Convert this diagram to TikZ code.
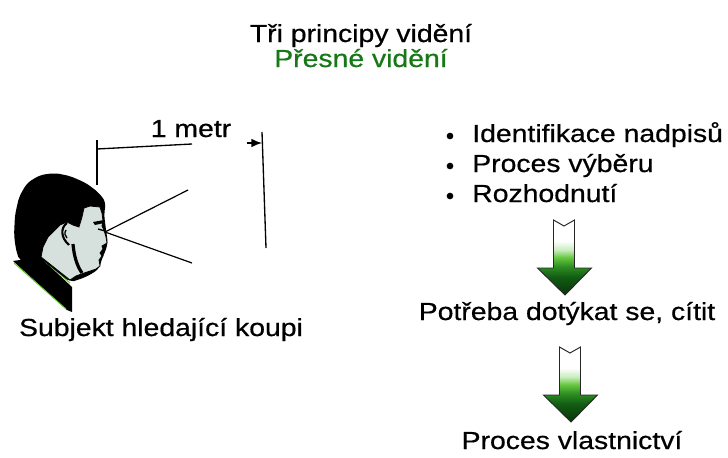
\documentclass[tikz,border=0pt]{standalone}
\usepackage{fontspec}
\setmainfont{Liberation Sans}
\newfontfamily\labelfont{Liberation Sans}[FakeBold=0.5]
\usepackage{graphicx}
\usetikzlibrary{arrows.meta}

\definecolor{titlegreen}{RGB}{24,120,24}
\definecolor{facefill}{RGB}{214,224,220}
\definecolor{collargreen}{RGB}{96,204,40}
\definecolor{arrowdark}{RGB}{8,52,8}
\definecolor{arrowdeep}{RGB}{18,92,20}
\definecolor{arrowmid}{RGB}{46,142,34}
\definecolor{arrowbright}{RGB}{102,200,64}
\definecolor{arrowpale}{RGB}{200,236,190}

% vertical fill of the flow arrows: white shaft top fading into a dark green head
\pgfdeclareverticalshading{flowfill}{100bp}{color(0bp)=(arrowdark); color(25bp)=(arrowdark);
  color(37bp)=(arrowdeep); color(44bp)=(arrowmid); color(50bp)=(arrowbright);
  color(55bp)=(arrowpale); color(61bp)=(white); color(100bp)=(white)}

\newcommand\widetext[1]{\scalebox{1.15}[1]{#1}}

\tikzset{
  lbl/.style={inner sep=0pt, font=\labelfont\fontsize{18.5}{22}\selectfont},
  dimline/.style={line width=1pt, black},
  sightline/.style={line width=0.9pt, black},
  dotmark/.style={circle, fill=black, inner sep=0pt, minimum size=5},
  flowarrow/.pic={
    \shadedraw[shading=flowfill, draw=black!85, line width=0.7pt]
      (-10.5,0) -- (0,6) -- (10.5,0) -- (10.5,48) -- (27.5,48) -- (1,75)
      -- (-26.5,48) -- (-10.5,48) -- cycle;
  }
}

\begin{document}
\begin{tikzpicture}[x=0.75pt, y=-0.75pt]
\useasboundingbox (0,0) rectangle (728,457);
\fill[white] (0,0) rectangle (728,457);

% headings
\node[lbl, anchor=base] (title) at (361,42) {\widetext{Tři principy vidění}};
\node[lbl, anchor=base, text=titlegreen] (subtitle) at (361,67) {\widetext{Přesné vidění}};

% ---- person in profile ----
% jacket and shoulders
\fill[black] (13,261) -- (40,257) -- (72,287) -- (72,312) -- (67,310) -- cycle;
\draw[collargreen, line width=0.8pt] (40,257) -- (70,283);
\draw[collargreen, line width=0.7pt] (14,263) -- (66,309);
% hair and head silhouette
\fill[black, rounded corners=4pt]
  (106,202) -- (98,192) -- (86,183) -- (70,176) -- (55,173) -- (40,175)
  -- (27,183) -- (19,197) -- (15,215) -- (14,235) -- (16,250) -- (20,262)
  -- (40,258) -- (70,282) -- (78,280) -- (90,275) -- (100,268)
  -- (101,260) -- (104,255) -- (108,243) -- (106,230) -- (104,214) -- cycle;
% face and neck
\filldraw[fill=facefill, draw=black, line width=0.6pt]
  (100,207) -- (102,213) -- (103,221) -- (102,226) -- (104,230) -- (106,237)
  -- (107,243) -- (102,246) -- (103,249) -- (100,253) -- (102,256) -- (99,260)
  -- (100,266) -- (96,269) -- (87,272) -- (76,276) -- (70,280) -- (41,257)
  -- (43,247) -- (48,237) -- (55,230) -- (60,225) -- (67,222) -- (73,225)
  -- (79,227) -- (82,217) -- (84,208) -- (90,206) -- cycle;
% ear, jaw shadow, brow and eye
\draw[black, line width=1.6pt] (67,223) .. controls (60,228) and (61,238) .. (69,245);
\draw[black, line width=1pt] (66,230) .. controls (64,233) and (65,236) .. (67,238);
\draw[black, line width=2.4pt] (73,244) .. controls (74,256) and (77,266) .. (82,273);
\fill[black] (93,222) -- (104,220) -- (104,223) -- (95,225) -- cycle;
\draw[black, line width=1pt] (98,229) -- (105,231);

% ---- viewing distance ----
\coordinate (eye) at (105,232);
\coordinate (viewtop) at (188,190);
\coordinate (viewbot) at (192,263);
\draw[sightline] (eye) -- (viewtop);
\draw[sightline] (eye) -- (viewbot);

\coordinate (dimtopL) at (97,140);
\coordinate (dimbotL) at (97,185);
\coordinate (dimhL) at (97,149);
\coordinate (dimhR) at (192,144);
\coordinate (tipstart) at (247,143);
\coordinate (tipend) at (262,143);
\coordinate (dimtopR) at (262,132);
\coordinate (dimbotR) at (266,248);
\draw[dimline] (dimtopL) -- (dimbotL);
\draw[dimline] (dimhL) -- (dimhR);
\draw[dimline, -{Latex[length=8pt, width=6.5pt]}] (tipstart) -- (tipend);
\draw[dimline] (dimtopR) -- (dimbotR);
\node[lbl, anchor=base] (metr) at (191,137) {\widetext{1 metr}};

\node[lbl, anchor=base] (subj) at (161,336) {\widetext{Subjekt hledající koupi}};

% ---- right column ----
\node[dotmark] (d1) at (450,136) {};
\node[dotmark] (d2) at (450,166) {};
\node[dotmark] (d3) at (450,196) {};
\node[lbl, anchor=base west] (item1) at (472,142) {\widetext{Identifikace nadpisů}};
\node[lbl, anchor=base west] (item2) at (472,172) {\widetext{Proces výběru}};
\node[lbl, anchor=base west] (item3) at (472,202) {\widetext{Rozhodnutí}};

\coordinate (arrowA) at (564,220);
\pic at (arrowA) {flowarrow};

\node[lbl, anchor=base] (touch) at (567,320) {\widetext{Potřeba dotýkat se, cítit}};

\coordinate (arrowB) at (570,347);
\pic at (arrowB) {flowarrow};

\node[lbl, anchor=base] (own) at (572,449) {\widetext{Proces vlastnictví}};
\end{tikzpicture}
\end{document}
